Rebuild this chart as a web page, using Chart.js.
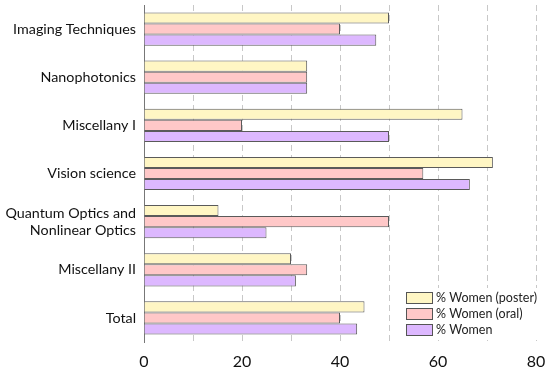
<!DOCTYPE html>
<html>
<head>
    <meta name="viewport" content="width=device-width, initial-scale=1.0">
    <title>Women share</title>
    <script src="https://cdn.jsdelivr.net/npm/chart.js"></script>
</head>
<body style="margin:0; background-color:#FFFFFF;">
    <div style="position: relative; width: 550px; height: 373px;">
        <canvas id="barChart"></canvas>
    </div>
<script>
var categories = ["Imaging Techniques", "Nanophotonics", "Miscellany I", "Vision science",
    ["Quantum Optics and", "Nonlinear Optics"], "Miscellany II", "Total"];
var posterValues = [50, 33.3, 65, 71.2, 15.2, 30, 45];
var oralValues = [40, 33.3, 20, 57, 50, 33.3, 40];
var womenValues = [47.4, 33.3, 50, 66.5, 25, 31, 43.5];
var seriesNames = ["% Women (poster)", "% Women (oral)", "% Women"];
var xTicks = [0, 20, 40, 60, 80];

var fills = ["#FFF6C4", "#FFC8C8", "#DDB8FF"];

// legend drawn inside the plot, bottom right
var innerLegend = {
    id: "innerLegend",
    afterDraw: function(chart) {
        var c = chart.ctx, a = chart.chartArea;
        var x = a.right - 130, y = a.bottom - 50;
        c.save();
        c.fillStyle = "#FFFFFF";
        c.fillRect(x - 4, y - 4, 150, 52);
        c.font = "12.5px Lato";
        c.textBaseline = "middle";
        chart.data.datasets.forEach(function(ds, i) {
            var yy = y + i * 16;
            c.fillStyle = ds.backgroundColor;
            c.fillRect(x, yy, 26, 11);
            c.strokeStyle = "#555555";
            c.lineWidth = 1;
            c.strokeRect(x + 0.5, yy + 0.5, 26, 11);
            c.fillStyle = "#222222";
            c.fillText(ds.label, x + 30, yy + 6);
        });
        c.restore();
    }
};

document.addEventListener("DOMContentLoaded", function() {
    var ctx = document.getElementById("barChart").getContext("2d");
    var data = {
        labels: categories,
        datasets: [
            { label: seriesNames[0], data: posterValues },
            { label: seriesNames[1], data: oralValues },
            { label: seriesNames[2], data: womenValues }
        ]
    };
    data.datasets.forEach(function(ds, i) {
        ds.backgroundColor = fills[i];
        ds.borderColor = "#5A5A5A";
        ds.borderWidth = 1;
        ds.categoryPercentage = 0.69;
        ds.barPercentage = 1.0;
    });

    new Chart(ctx, {
        type: "bar",
        data: data,
        plugins: [innerLegend],
        options: {
            indexAxis: "y",
            responsive: true,
            maintainAspectRatio: false,
            animation: false,
            layout: { padding: { top: 5, right: 14, bottom: 4, left: 0 } },
            plugins: {
                legend: { display: false },
                tooltip: { enabled: false }
            },
            scales: {
                x: {
                    min: 0,
                    max: 80,
                    ticks: {
                        stepSize: 10,
                        color: "#111111",
                        font: { family: "Lato", size: 16 },
                        callback: function(v) { return xTicks.indexOf(v) >= 0 ? v : ""; },
                        maxRotation: 0,
                        autoSkip: false,
                        padding: 10
                    },
                    grid: {
                        color: "#C8C8C8",
                        drawTicks: false
                    },
                    border: { display: false, dash: [6, 4] },
                    afterFit: function(scale) {
                        scale.height = 27;
                        scale.paddingTop = 0;
                        scale.paddingBottom = 0;
                        scale.paddingRight = 0;
                    }
                },
                y: {
                    ticks: {
                        color: "#111111",
                        font: { family: "Lato", size: 14.3 },
                        padding: 8
                    },
                    grid: { display: false, drawTicks: false },
                    border: { display: true, color: "#777777", width: 1 },
                    afterFit: function(scale) {
                        scale.width = 144;
                        scale.paddingTop = 0;
                        scale.paddingBottom = 0;
                    }
                }
            }
        }
    });
});
</script>
</body>
</html>
